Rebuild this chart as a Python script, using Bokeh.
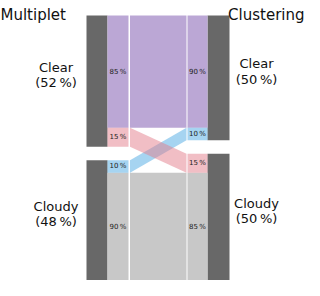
from bokeh.plotting import figure
from bokeh.models import Range1d, Label
from bokeh.core.properties import value
from bokeh.embed import file_html
from bokeh.resources import INLINE

# ---------------- data ----------------
left_title = "Multiplet"
right_title = "Clustering"
categories = ["Clear", "Cloudy"]
# flows[i][j]: share of all items going from left category i to right category j
flows = [[0.446, 0.076],
         [0.050, 0.428]]
left_total_labels = ["(52\u2009%)", "(48\u2009%)"]
right_total_labels = ["(50\u2009%)", "(50\u2009%)"]
# left_seg_labels[i][j]: share of left i that goes to right j
left_seg_labels = [["85\u2009%", "15\u2009%"], ["10\u2009%", "90\u2009%"]]
# right_seg_labels[j][i]: share of right j that comes from left i
right_seg_labels = [["90\u2009%", "10\u2009%"], ["15\u2009%", "85\u2009%"]]

# ---------------- style ----------------
flow_colors = [["#bba7d5", "#e37d8b"], ["#4da9e3", "#c8c8c8"]]
flow_alphas = [[1.0, 0.5], [0.5, 1.0]]
node_color = "#686868"
FONT = "DejaVu Sans"
W, H = 304, 280
GAP = 0.053
TOP_PX, BOT_PX = 15, 280

total = sum(sum(r) for r in flows) + GAP
ppu = (BOT_PX - TOP_PX) / total

# x layout (figure px)
XB_L0, XB_L1 = 86, 107     # left node bar
XC_L0, XC_L1 = 107, 128    # left label column
XF_L, XF_R = 129.5, 186    # flow band
XC_R0, XC_R1 = 187, 207    # right label column
XB_R0, XB_R1 = 207, 229    # right node bar
XLAB_L, XLAB_R = 55.5, 256

p = figure(width=W, height=H, x_range=Range1d(0, W),
           y_range=Range1d(total + (H - BOT_PX) / ppu, -TOP_PX / ppu),
           output_backend="svg", toolbar_location=None, min_border=0,
           x_axis_location=None, y_axis_location=None)
p.grid.visible = False
p.outline_line_color = None
p.background_fill_color = "white"
p.border_fill_color = "white"

n = len(categories)
left_sizes = [sum(flows[i]) for i in range(n)]
right_sizes = [sum(flows[i][j] for i in range(n)) for j in range(n)]
left_top, right_top = [], []
acc = 0.0
for i in range(n):
    left_top.append(acc)
    acc += left_sizes[i] + GAP
acc = 0.0
for j in range(n):
    right_top.append(acc)
    acc += right_sizes[j] + GAP

# flow segment positions
lseg = {}
for i in range(n):
    y = left_top[i]
    for j in range(n):
        lseg[(i, j)] = (y, y + flows[i][j])
        y += flows[i][j]
rseg = {}
for j in range(n):
    y = right_top[j]
    for i in range(n):
        rseg[(i, j)] = (y, y + flows[i][j])
        y += flows[i][j]

# node bars
p.quad(left=[XB_L0] * n, right=[XB_L1] * n, top=left_top,
       bottom=[left_top[i] + left_sizes[i] for i in range(n)],
       fill_color=node_color, line_color=None)
p.quad(left=[XB_R0] * n, right=[XB_R1] * n, top=right_top,
       bottom=[right_top[j] + right_sizes[j] for j in range(n)],
       fill_color=node_color, line_color=None)

# flows: draw order purple, gray, blue, pink
order = [(0, 0), (1, 1), (1, 0), (0, 1)]
for (i, j) in order:
    ly0, ly1 = lseg[(i, j)]
    ry0, ry1 = rseg[(i, j)]
    c, a = flow_colors[i][j], flow_alphas[i][j]
    p.patch(x=[XF_L, XF_R, XF_R, XF_L], y=[ly0, ry0, ry1, ly1],
            fill_color=c, fill_alpha=a, line_color=None)
    p.quad(left=[XC_L0], right=[XC_L1], top=[ly0], bottom=[ly1],
           fill_color=c, fill_alpha=a, line_color=None)
    p.quad(left=[XC_R0], right=[XC_R1], top=[ry0], bottom=[ry1],
           fill_color=c, fill_alpha=a, line_color=None)

# segment percentage labels
for i in range(n):
    for j in range(n):
        ly0, ly1 = lseg[(i, j)]
        ry0, ry1 = rseg[(i, j)]
        p.text(x=[(XC_L0 + XC_L1) / 2], y=[(ly0 + ly1) / 2], text=[left_seg_labels[i][j]],
               text_font=value(FONT), text_font_size="7px", text_color="#222222",
               text_align="center", text_baseline="middle")
        p.text(x=[(XC_R0 + XC_R1) / 2], y=[(ry0 + ry1) / 2], text=[right_seg_labels[j][i]],
               text_font=value(FONT), text_font_size="7px", text_color="#222222",
               text_align="center", text_baseline="middle")

# category labels
for i in range(n):
    c = left_top[i] + left_sizes[i] / 2
    p.text(x=[XLAB_L, XLAB_L], y=[c - 14 / ppu, c + 1.5 / ppu],
           text=[categories[i], left_total_labels[i]],
           text_font=value(FONT), text_font_size="13px", text_color="#111111",
           text_align="center", text_baseline="alphabetic")
for j in range(n):
    c = right_top[j] + right_sizes[j] / 2
    p.text(x=[XLAB_R, XLAB_R], y=[c - 14 / ppu, c + 1.5 / ppu],
           text=[categories[j], right_total_labels[j]],
           text_font=value(FONT), text_font_size="13px", text_color="#111111",
           text_align="center", text_baseline="alphabetic")

# titles
p.add_layout(Label(x=0, y=H - 14, x_units="screen", y_units="screen", text=left_title,
                   text_font=FONT, text_font_size="15px", text_color="#111111",
                   text_align="left", text_baseline="alphabetic"))
p.add_layout(Label(x=W, y=H - 14, x_units="screen", y_units="screen", text=right_title,
                   text_font=FONT, text_font_size="15px", text_color="#111111",
                   text_align="right", text_baseline="alphabetic"))

open("out.html", "w").write(file_html(p, INLINE))
